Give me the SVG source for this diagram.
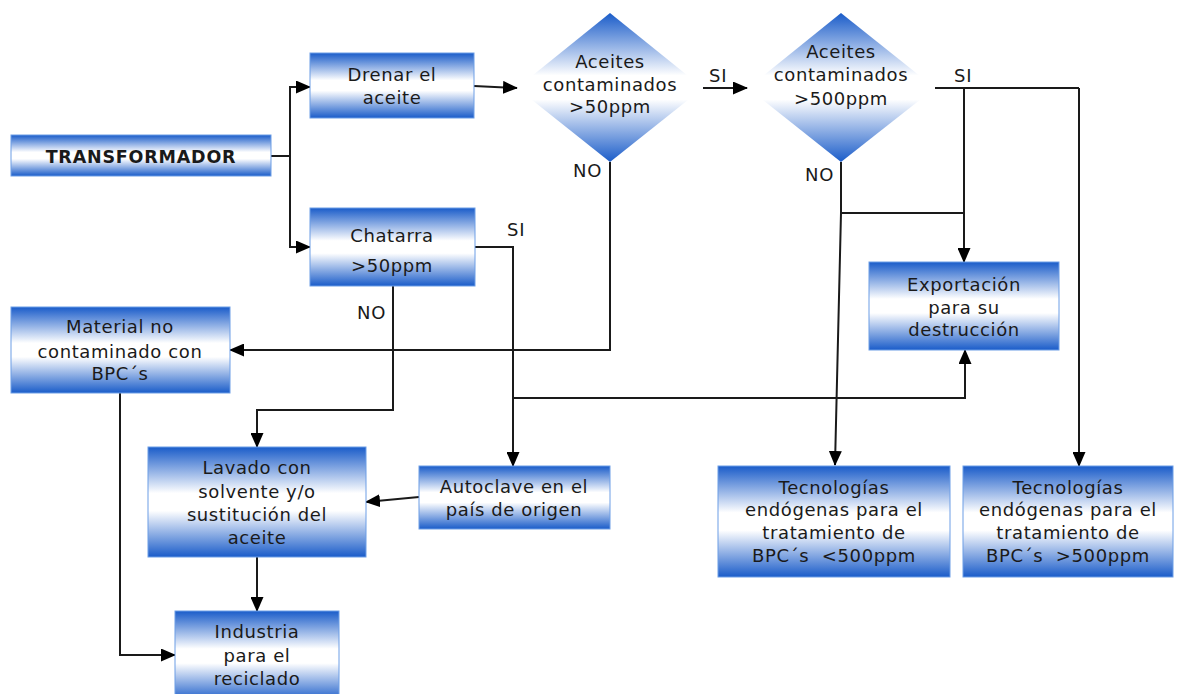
<svg xmlns="http://www.w3.org/2000/svg" width="1185" height="694" viewBox="0 0 1185 694">
<defs>
<linearGradient id="g" x1="0" y1="0" x2="0" y2="1">
<stop offset="0" stop-color="#1a5cc9"/>
<stop offset="0.42" stop-color="#ffffff"/>
<stop offset="0.58" stop-color="#ffffff"/>
<stop offset="1" stop-color="#1a5cc9"/>
</linearGradient>
<marker id="ah" markerUnits="userSpaceOnUse" markerWidth="15" markerHeight="13" refX="14" refY="6.5" orient="auto">
<path d="M0,0 L15,6.5 L0,13 Z" fill="#000"/>
</marker>
<style>
.box{fill:url(#g);stroke:#6d9ee6;stroke-width:1}
.dia{fill:url(#g);stroke:none}
text{font-family:"DejaVu Sans","Verdana",sans-serif;font-size:18px;fill:#1a1a1a;text-anchor:middle;letter-spacing:0.6px}
.b{font-weight:bold;font-size:17.5px;letter-spacing:0.8px}
.lbl{text-anchor:start;letter-spacing:0.8px}
.c{fill:none;stroke:#1a1a1a;stroke-width:2}
.a{marker-end:url(#ah)}
</style>
</defs>
<g id="connectors">
<path class="c" d="M271,156 H290 V86"/>
<path class="c a" d="M290,87 H310"/>
<path class="c a" d="M290,156 V247 H310"/>
<path class="c a" d="M474,86 L517,88"/>
<path class="c a" d="M703,88 H747"/>
<path class="c a" d="M610,162 V350 H230"/>
<path class="c" d="M935,88 H1079"/>
<path class="c a" d="M964,88 V262"/>
<path class="c a" d="M1079,88 V466"/>
<path class="c a" d="M841,162 V213 L835,465"/>
<path class="c" d="M841,213 H964"/>
<path class="c a" d="M475,247 H513 V466"/>
<path class="c a" d="M513,398 H965 V350"/>
<path class="c a" d="M393,286 V410 H257 V447"/>
<path class="c a" d="M419,497 L366,502"/>
<path class="c a" d="M257,557 V611"/>
<path class="c a" d="M120,393 V655 H175"/>
</g>
<g id="transformador">
<rect class="box" x="11" y="135" width="260" height="41"/>
<text class="b" x="141" y="163">TRANSFORMADOR</text>
</g>
<g id="drenar">
<rect class="box" x="310" y="53" width="164" height="65"/>
<text x="392" y="81">Drenar el</text>
<text x="392" y="104">aceite</text>
</g>
<g id="chatarra">
<rect class="box" x="310" y="208" width="165" height="78"/>
<text x="392" y="242">Chatarra</text>
<text x="392" y="272">&gt;50ppm</text>
</g>
<g id="diamond1">
<polygon class="dia" points="610,13 703,88 610,162 517,88"/>
<text x="610" y="68">Aceites</text>
<text x="610" y="91">contaminados</text>
<text x="610" y="113">&gt;50ppm</text>
</g>
<g id="diamond2">
<polygon class="dia" points="841,13 935,88 841,162 748,88"/>
<text x="841" y="58">Aceites</text>
<text x="841" y="81">contaminados</text>
<text x="841" y="105">&gt;500ppm</text>
</g>
<g id="exportacion">
<rect class="box" x="869" y="262" width="190" height="88"/>
<text x="964" y="291">Exportación</text>
<text x="964" y="314">para su</text>
<text x="964" y="336">destrucción</text>
</g>
<g id="material">
<rect class="box" x="11" y="307" width="219" height="86"/>
<text x="120" y="333">Material no</text>
<text x="120" y="358">contaminado con</text>
<text x="120" y="380">BPC´s</text>
</g>
<g id="lavado">
<rect class="box" x="148" y="447" width="218" height="110"/>
<text x="257" y="474">Lavado con</text>
<text x="257" y="498">solvente y/o</text>
<text x="257" y="521">sustitución del</text>
<text x="257" y="544">aceite</text>
</g>
<g id="autoclave">
<rect class="box" x="419" y="466" width="191" height="63"/>
<text x="514" y="493">Autoclave en el</text>
<text x="514" y="516">país de origen</text>
</g>
<g id="industria">
<rect class="box" x="175" y="611" width="164" height="90"/>
<text x="257" y="638">Industria</text>
<text x="257" y="662">para el</text>
<text x="257" y="685">reciclado</text>
</g>
<g id="tec500menor">
<rect class="box" x="718" y="466" width="232" height="111"/>
<text x="834" y="494">Tecnologías</text>
<text x="834" y="516">endógenas para el</text>
<text x="834" y="539">tratamiento de</text>
<text x="834" y="562">BPC´s&#160; &lt;500ppm</text>
</g>
<g id="tec500mayor">
<rect class="box" x="963" y="466" width="210" height="111"/>
<text x="1068" y="494">Tecnologías</text>
<text x="1068" y="516">endógenas para el</text>
<text x="1068" y="539">tratamiento de</text>
<text x="1068" y="562">BPC´s&#160; &gt;500ppm</text>
</g>
<g id="labels">
<text class="lbl" x="709" y="82">SI</text>
<text class="lbl" x="954" y="82">SI</text>
<text class="lbl" x="573" y="177">NO</text>
<text class="lbl" x="805" y="181">NO</text>
<text class="lbl" x="507" y="236">SI</text>
<text class="lbl" x="357" y="319">NO</text>
</g>
</svg>
